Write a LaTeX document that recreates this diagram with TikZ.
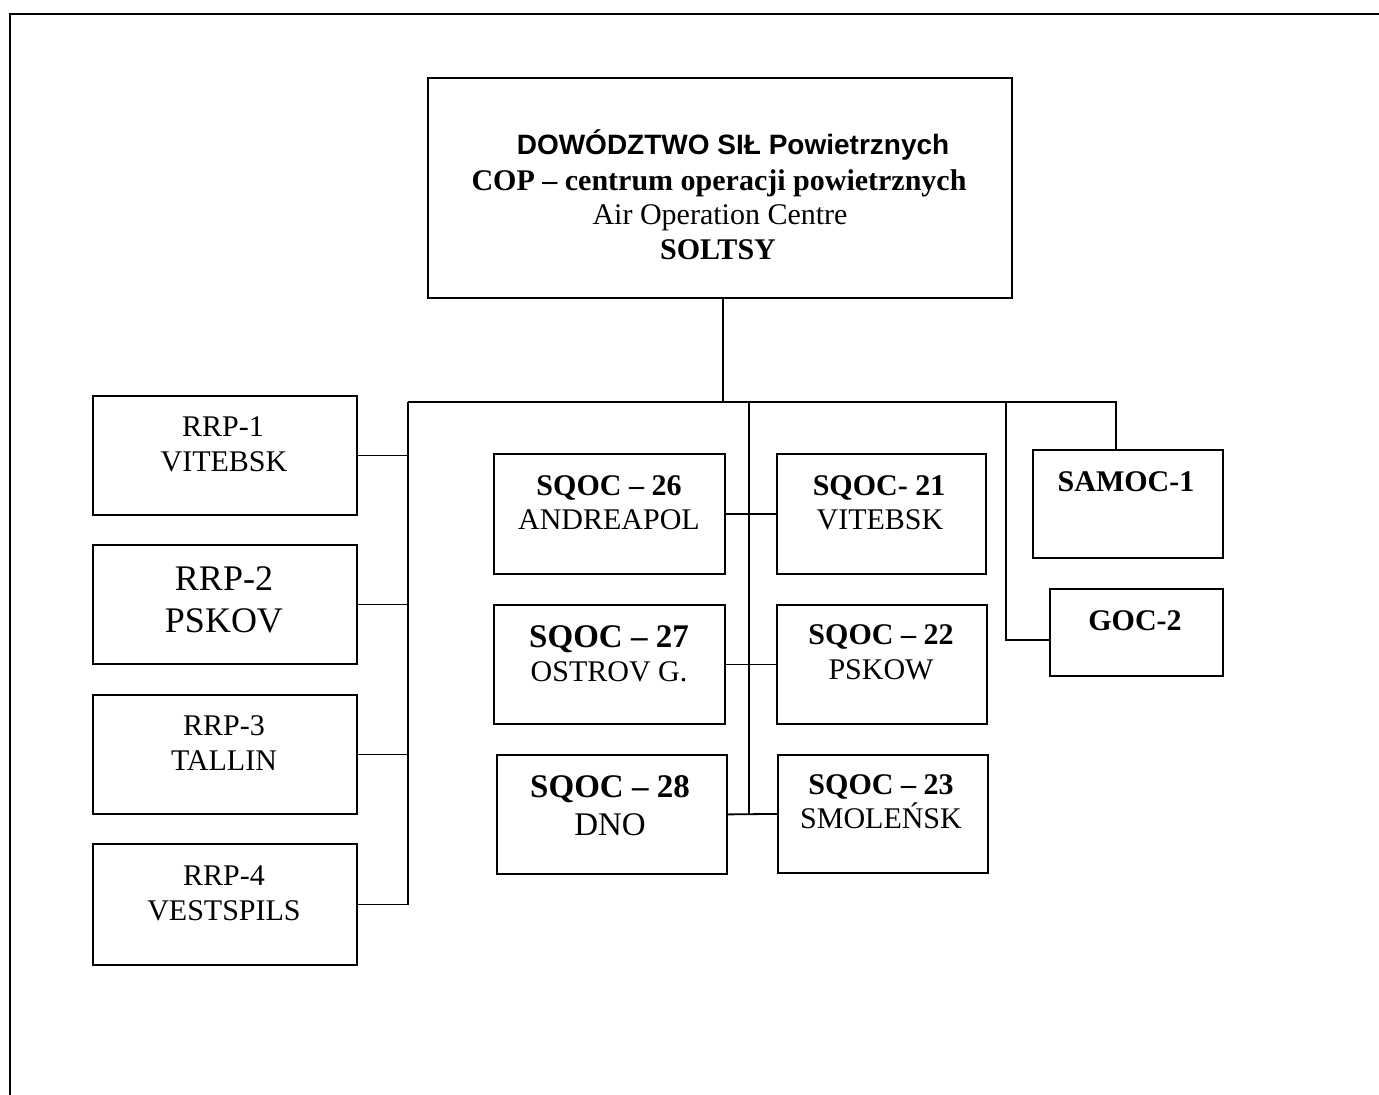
\documentclass[tikz,border=0pt]{standalone}
\usepackage{fontspec}
\setmainfont{Liberation Serif}
\newfontfamily\arialf{Liberation Sans}
\tikzset{
  box/.style={draw, line width=1.8pt, rectangle, inner sep=0pt, anchor=north west},
  conn/.style={line width=1.8pt},
  frameline/.style={line width=2pt},
  tr/.style={anchor=base, inner sep=0pt, font=\fontsize{30}{34}\selectfont},
  tb/.style={anchor=base, inner sep=0pt, font=\fontsize{30}{34}\selectfont\bfseries},
}
\begin{document}
\begin{tikzpicture}[x=1pt,y=-1pt]
\useasboundingbox (0,0) rectangle (1379,1095);
\fill[white] (0,0) rectangle (1379,1095);
% outer frame (top and left visible)
\draw[frameline] (10,1095) -- (10,14) -- (1379,14);

% boxes
\node[box, minimum width=584, minimum height=220] (top) at (427,77) {};
\node[box, minimum width=264, minimum height=119] (rrp1) at (92,395) {};
\node[box, minimum width=264, minimum height=119] (rrp2) at (92,544) {};
\node[box, minimum width=264, minimum height=119] (rrp3) at (92,694) {};
\node[box, minimum width=264, minimum height=121] (rrp4) at (92,843) {};
\node[box, minimum width=231, minimum height=120] (sq26) at (493,453) {};
\node[box, minimum width=231, minimum height=119] (sq27) at (493,604) {};
\node[box, minimum width=230, minimum height=119] (sq28) at (496,754) {};
\node[box, minimum width=209, minimum height=120] (sq21) at (776,453) {};
\node[box, minimum width=210, minimum height=119] (sq22) at (776,604) {};
\node[box, minimum width=210, minimum height=118] (sq23) at (777,754) {};
\node[box, minimum width=190, minimum height=108] (samoc) at (1032,449) {};
\node[box, minimum width=173, minimum height=87] (goc) at (1049,588) {};

% texts
\node[anchor=base, inner sep=0pt, font=\arialf\bfseries\fontsize{28}{32}\selectfont] (topa) at (733,154) {DOWÓDZTWO SIŁ Powietrznych};
\node[tb] (topb) at (719,190) {COP – centrum operacji powietrznych};
\node[tr] (topc) at (720,224) {Air Operation Centre};
\node[tb] (topd) at (718,259) {SOLTSY};

\node[tr] (rrp1a) at (223,436) {RRP-1};
\node[tr] (rrp1b) at (224,471) {VITEBSK};
\node[tr, font=\fontsize{36}{40}\selectfont] (rrp2a) at (224,590) {RRP-2};
\node[tr, font=\fontsize{36}{40}\selectfont] (rrp2b) at (224,632) {PSKOV};
\node[tr] (rrp3a) at (224,735) {RRP-3};
\node[tr] (rrp3b) at (224,770) {TALLIN};
\node[tr] (rrp4a) at (224,885) {RRP-4};
\node[tr] (rrp4b) at (224,920) {VESTSPILS};

\node[tb] (sq26a) at (609,495) {SQOC – 26};
\node[tr] (sq26b) at (609,529) {ANDREAPOL};
\node[tb, font=\fontsize{33}{37}\selectfont\bfseries] (sq27a) at (609,647) {SQOC – 27};
\node[tr] (sq27b) at (609,681) {OSTROV G.};
\node[tb, font=\fontsize{33}{37}\selectfont\bfseries] (sq28a) at (610,797) {SQOC – 28};
\node[tr, font=\fontsize{33}{37}\selectfont] (sq28b) at (610,835) {DNO};

\node[tb] (sq21a) at (879,495) {SQOC- 21};
\node[tr] (sq21b) at (880,529) {VITEBSK};
\node[tb] (sq22a) at (881,644) {SQOC – 22};
\node[tr] (sq22b) at (881,679) {PSKOW};
\node[tb] (sq23a) at (881,794) {SQOC – 23};
\node[tr] (sq23b) at (881,828) {SMOLEŃSK};

\node[tb] (samoca) at (1126,491) {SAMOC-1};
\node[tb] (goca) at (1135,630) {GOC-2};

% connector junctions
\coordinate (j0) at (723,402);
\coordinate (bl) at (408,402);
\coordinate (bm) at (749,402);
\coordinate (br) at (1006,402);
\coordinate (bs) at (1116,402);
\coordinate (gj) at (1006,640);

\draw[conn] (top.south -| j0) -- (j0);
\draw[conn] (bl) -- (bs) -- (bs |- samoc.north);
\draw[conn] (bl) |- (rrp4.east);
\draw[conn] (rrp1.east) -- (rrp1.east -| bl);
\draw[conn] (rrp2.east) -- (rrp2.east -| bl);
\draw[conn] (rrp3.east) -- (rrp3.east -| bl);
\draw[conn] (bm) -- (bm |- sq28.east);
\draw[conn] (sq26.east) -- (sq21.west);
\draw[conn] (sq27.east) -- (sq22.west);
\draw[conn] (sq28.east) -- (sq23.west);
\draw[conn] (br) -- (gj) -- (gj -| goc.west);
\end{tikzpicture}
\end{document}
